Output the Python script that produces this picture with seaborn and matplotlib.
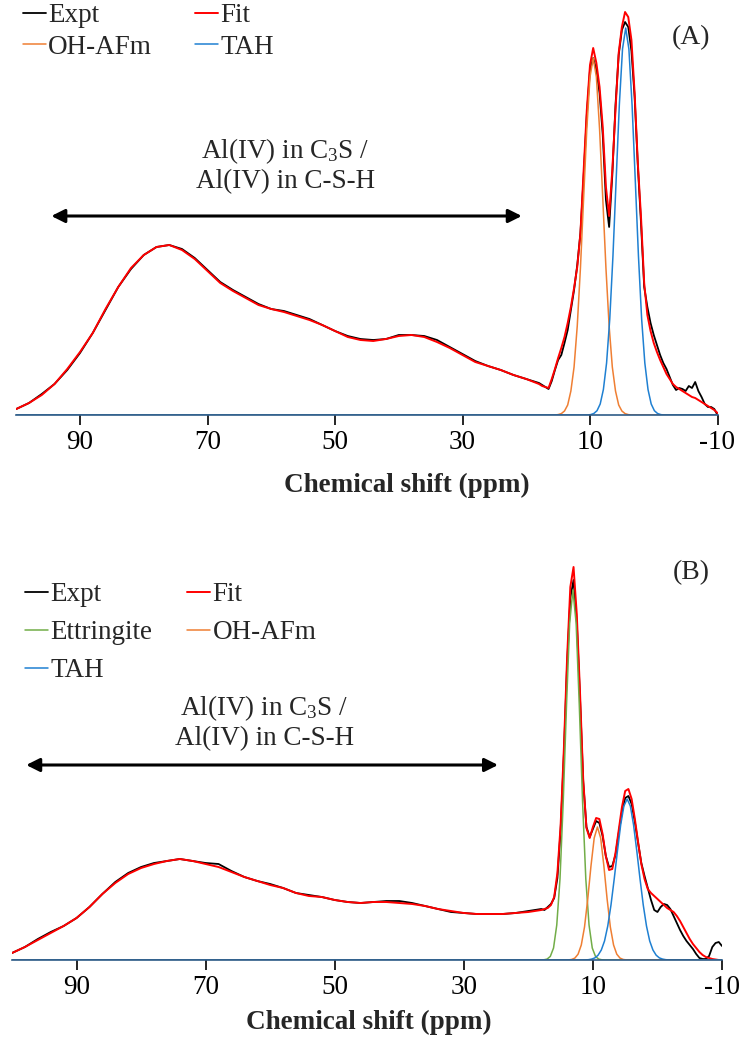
import numpy as np
import matplotlib
matplotlib.use("Agg")
import matplotlib.pyplot as plt
import seaborn as sns

sns.set_theme(style="white")
plt.rcParams["font.family"] = ["Liberation Serif", "DejaVu Serif"]
plt.rcParams["mathtext.fontset"] = "custom"
plt.rcParams["mathtext.rm"] = "Liberation Serif"
plt.rcParams["mathtext.it"] = "Liberation Serif:italic"
plt.rcParams["mathtext.bf"] = "Liberation Serif:bold"

# ---------------------------------------------------------------
# 27Al MAS NMR spectra: chemical shift axis (ppm)
# broad Al(IV) region every 2 ppm, octahedral region every 0.5 ppm
# ---------------------------------------------------------------
ppm_broad = np.arange(100, 19, -2)
ppm_fine = np.arange(18, -10.5, -0.5)
ppm = np.concatenate([ppm_broad, ppm_fine])

# ----- sample (A) -----
expt_a = [
    6, 12, 21, 31, 45, 62, 82, 105, 128, 146, 160, 168, 170, 166, 157, 145,
    133, 125, 118, 111, 106, 104, 100, 96, 90, 84, 79, 76, 75, 76, 80, 80,
    79, 75, 68, 61, 54, 49, 45, 40, 36,
    32, 30, 28, 26, 34, 45, 55, 60, 72, 85, 105, 125, 150, 182, 238, 300,
    345, 357, 345, 322, 280, 215, 188, 240, 310, 360, 385, 393, 388, 364,
    318, 250, 192, 128, 108, 92, 80, 70, 60, 52, 46, 38, 30, 25, 27, 26,
    24, 29, 27, 33, 24, 18, 11, 8, 8, 6, 0,
]
fit_a = [
    6, 12, 20, 31, 46, 63, 82, 106, 128, 147, 160, 168, 170, 165, 156, 144,
    132, 124, 117, 110, 106, 103, 99, 95, 90, 84, 78, 75, 74, 76, 79, 80,
    78, 73, 67, 60, 53, 49, 45, 40, 36,
    31, 29, 28, 27, 36, 46, 57, 67, 78, 92, 108, 127, 148, 182, 244, 305,
    350, 367, 352, 328, 288, 228, 199, 245, 305, 362, 388, 403, 398, 375,
    322, 252, 198, 132, 100, 84, 72, 63, 55, 48, 41, 36, 31, 28, 26, 24,
    22, 20, 18, 17, 15, 13, 11, 9, 7, 5, 2,
]
# fitted components, 0.5 ppm steps starting at the given shift
ohafm_a_start = 15.5
ohafm_a = [0, 0.4, 1.4, 4, 10, 24, 48, 89, 147, 217, 286, 338, 357, 338,
           286, 217, 147, 89, 48, 24, 10, 4, 1.4, 0.4, 0]
tah_a_start = 10.4
tah_a = [0, 0.4, 1.5, 4.3, 11, 25.5, 52, 96, 159, 235, 310, 366, 387, 366,
         310, 235, 159, 96, 52, 25.5, 11, 4.3, 1.5, 0.4, 0]

# ----- sample (B) -----
expt_b = [
    7, 13, 21, 28, 34, 42, 53, 66, 78, 87, 93, 97, 99, 101, 99, 97, 96, 89,
    83, 79, 76, 72, 67, 65, 63, 60, 58, 57, 58, 59, 59, 57, 54, 51, 48, 47,
    46, 46, 46, 47, 49,
    51, 50, 53, 56, 62, 82, 130, 205, 295, 362, 380, 338, 262, 178, 133,
    123, 131, 139, 137, 124, 104, 93, 94, 105, 127, 148, 162, 164, 156, 138,
    117, 97, 84, 72, 60, 50, 48, 53, 56, 55, 51, 44, 37, 30, 24, 19, 15, 11,
    6, 2, 1, 1, 4, 13, 17, 18, 14,
]
fit_b = [
    7, 13, 20, 27, 34, 42, 53, 66, 77, 86, 92, 96, 99, 101, 99, 96, 93, 88,
    83, 79, 75, 72, 67, 64, 63, 60, 58, 57, 58, 58, 57, 56, 54, 51, 49, 47,
    46, 46, 46, 47, 48,
    50, 51, 52, 55, 63, 87, 135, 211, 302, 373, 393, 346, 268, 180, 132,
    122, 133, 142, 141, 126, 104, 90, 91, 107, 130, 153, 169, 171, 161, 141,
    118, 96, 81, 71, 67, 64, 61, 58, 55, 52, 50, 48, 44, 39, 33, 27, 21, 16,
    12, 8, 5, 3, 2, 1, 0.5, 0, 0,
]
ett_b_start = 18.1
ett_b = [0, 0.2, 0.9, 3.6, 12, 35, 81, 158, 253, 337, 370, 337, 253, 158,
         81, 35, 12, 3.6, 0.9, 0.2, 0]
ohafm_b_start = 14.3
ohafm_b = [0, 0.1, 0.5, 1.9, 5.8, 15, 33, 61, 94, 122, 133, 122, 94, 61, 33,
           15, 5.8, 1.9, 0.5, 0.1, 0]
tah_b_start = 11.7
tah_b = [0, 0.1, 0.3, 0.9, 2.1, 4.8, 10, 19, 34, 55, 81, 109, 135, 154, 161,
         154, 135, 109, 81, 55, 34, 19, 10, 4.8, 2.1, 0.9, 0.3, 0.1, 0]

xticks = [90, 70, 50, 30, 10, -10]
region_label = "Al(IV) in C$\\mathregular{_3}$S /\nAl(IV) in C-S-H"

C_EXPT, C_FIT = "#000000", "#FF0000"
C_OH, C_TAH, C_ETT = "#EF7F33", "#1F80D2", "#72AD48"
FS = 19.5

W, H = 742, 1042
fig = plt.figure(figsize=(W / 100, H / 100), dpi=100)
ax_a = fig.add_axes([16.25 / W, 1 - 415 / H, 701.25 / W, 415 / H])
ax_b = fig.add_axes([12 / W, 1 - 960 / H, 710 / W, 415 / H])


def component_xy(start, vals):
    x = np.concatenate([[100.0], start - 0.5 * np.arange(len(vals)), [-10.0]])
    y = np.concatenate([[0.0], np.asarray(vals, float), [0.0]])
    return x, y


def line(ax, x, y, color, lw, label):
    sns.lineplot(x=x, y=y, ax=ax, color=color, lw=lw, label=label,
                 estimator=None, sort=False, legend=False)
    return ax.lines[-1]


def panel(ax, expt, fit, comps, arrow, text_xy, label_x, label_y, tag, tag_y,
          leg_anchor, leg_order, colspace, rowspace):
    handles = {}
    handles["Expt"] = line(ax, ppm, expt, C_EXPT, 1.3, "Expt")
    handles["Fit"] = line(ax, ppm, fit, C_FIT, 1.4, "Fit")
    for name, start, vals, col in comps:
        x, y = component_xy(start, vals)
        handles[name] = line(ax, x, y, col, 1.1, name)

    ax.set_xlim(100, -10)
    ax.set_ylim(0, 415)
    ax.set_xticks(xticks)
    ax.set_xticklabels([str(t) for t in xticks])
    ax.set_yticks([])
    for s in ("left", "right", "top"):
        ax.spines[s].set_visible(False)
    ax.spines["bottom"].set_color("#2F5C88")
    ax.spines["bottom"].set_linewidth(1.2)
    ax.tick_params(axis="x", direction="out", length=7, width=1.2,
                   colors="black", labelsize=FS, pad=4, bottom=True)
    ax.set_xlabel("Chemical shift (ppm)", fontsize=FS, fontweight="bold")
    ax.xaxis.set_label_coords(label_x, label_y)

    # Al(IV) region double arrow and caption
    ax.annotate("", xy=(arrow[1], arrow[2]), xytext=(arrow[0], arrow[2]),
                arrowprops=dict(arrowstyle="<|-|>", lw=2.2, color="black",
                                mutation_scale=20, shrinkA=0, shrinkB=0))
    ax.text(text_xy[0], text_xy[1], region_label, ha="center", va="center",
            fontsize=FS, linespacing=1.15)

    fig.text(691 / W, 1 - tag_y / H, tag, ha="center", va="center",
             fontsize=20)

    leg = ax.legend(handles=[handles[k] for k in leg_order],
                    labels=leg_order, ncol=2, loc="upper left",
                    bbox_to_anchor=leg_anchor, bbox_transform=fig.transFigure,
                    frameon=False, fontsize=FS, handlelength=0.85,
                    handletextpad=0.08, columnspacing=colspace,
                    labelspacing=rowspace, borderpad=0, borderaxespad=0)
    return leg


panel(ax_a, expt_a, fit_a,
      [("OH-AFm", ohafm_a_start, ohafm_a, C_OH),
       ("TAH", tah_a_start, tah_a, C_TAH)],
      arrow=(94.5, 20.7, 199), text_xy=(57.8, 250),
      label_x=0.557, label_y=-0.14, tag="(A)", tag_y=38,
      leg_anchor=(23 / W, 1 - 3 / H),
      leg_order=["Expt", "OH-AFm", "Fit", "TAH"], colspace=1.6,
      rowspace=0.25)

panel(ax_b, expt_b, fit_b,
      [("Ettringite", ett_b_start, ett_b, C_ETT),
       ("OH-AFm", ohafm_b_start, ohafm_b, C_OH),
       ("TAH", tah_b_start, tah_b, C_TAH)],
      arrow=(97.8, 24.7, 195), text_xy=(60.9, 238),
      label_x=0.503, label_y=-0.12, tag="(B)", tag_y=573,
      leg_anchor=(25 / W, 1 - 582 / H),
      leg_order=["Expt", "Ettringite", "TAH", "Fit", "OH-AFm"], colspace=1.3,
      rowspace=0.48)

fig.savefig("out.png", dpi=100, facecolor="white")
